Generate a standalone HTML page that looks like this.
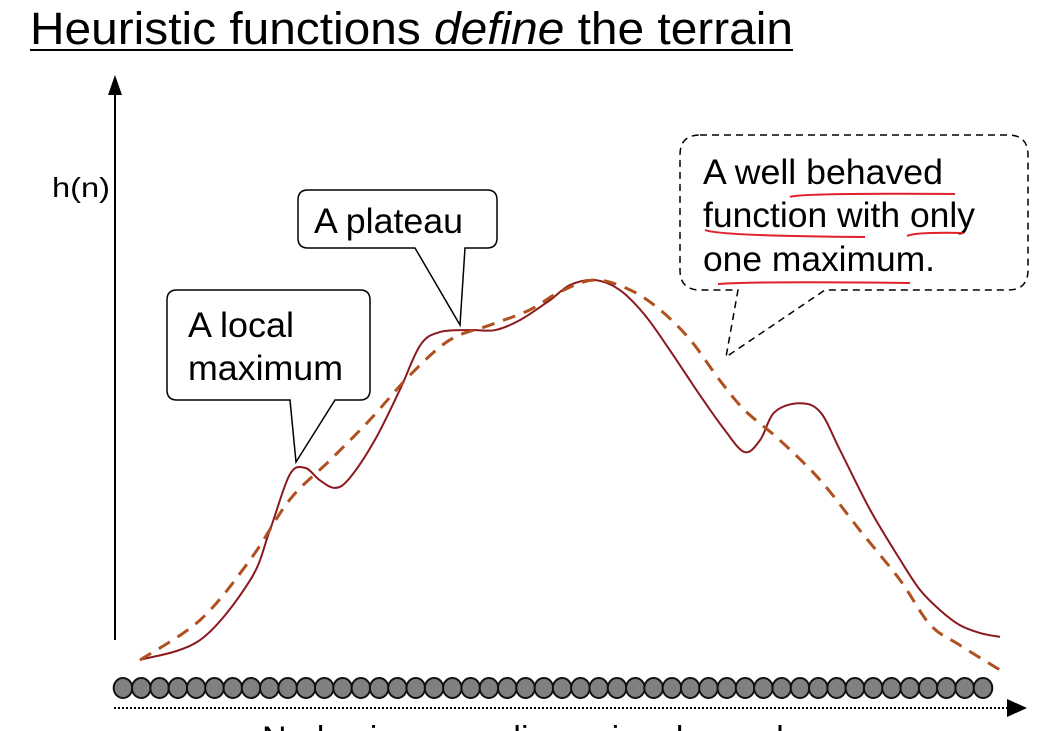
<!DOCTYPE html>
<html><head><meta charset="utf-8"><style>
body{margin:0;background:#fff;width:1060px;height:731px;overflow:hidden;font-family:"Liberation Sans",sans-serif}
svg{position:absolute;left:0;top:0}
</style></head><body>
<svg id="c" width="1060" height="731">
<text x="30" y="44" font-size="45" textLength="763" lengthAdjust="spacingAndGlyphs" fill="#000">Heuristic functions <tspan font-style="italic">define</tspan> the terrain</text>
<line x1="30" y1="50" x2="793" y2="50" stroke="#000" stroke-width="2"/>
<line x1="115" y1="92" x2="115" y2="640" stroke="#000" stroke-width="2"/>
<polygon points="108,95 122,95 115,75" fill="#000"/>
<text x="52" y="197" font-size="28" textLength="58" lengthAdjust="spacingAndGlyphs">h(n)</text>
<line x1="114" y1="708" x2="1008" y2="708" stroke="#000" stroke-width="2" stroke-dasharray="2,2"/>
<polygon points="1007,699 1007,717 1027,708" fill="#000"/>
<text x="262" y="750" font-size="34">Nodes in a one-dimensional search space</text>
<g id="nodes"></g>
<g id="series"></g>
<path d="M308,190 H487 Q497,190 497,200 V238 Q497,248 487,248 H465 L460,325 L415,248 H308 Q298,248 298,238 V200 Q298,190 308,190 Z" fill="#fff" stroke="#000" stroke-width="1.5"/>
<text x="314" y="233" font-size="35" textLength="149" lengthAdjust="spacingAndGlyphs">A plateau</text>
<path d="M177,290 H360 Q370,290 370,300 V390 Q370,400 360,400 H335 L296,462 L290,400 H177 Q167,400 167,390 V300 Q167,290 177,290 Z" fill="#fff" stroke="#000" stroke-width="1.5"/>
<text x="188" y="337" font-size="35" textLength="106" lengthAdjust="spacingAndGlyphs">A local</text>
<text x="188" y="380" font-size="35" textLength="155" lengthAdjust="spacingAndGlyphs">maximum</text>
<path d="M700,135 H1008 Q1028,135 1028,155 V270 Q1028,290 1008,290 H825 L726,357 L738,290 H700 Q680,290 680,270 V155 Q680,135 700,135 Z" fill="#fff" stroke="#000" stroke-width="1.5" stroke-dasharray="7,5"/>
<text x="703" y="184" font-size="35" textLength="240" lengthAdjust="spacingAndGlyphs">A well behaved</text>
<text x="703" y="227" font-size="35" textLength="272" lengthAdjust="spacingAndGlyphs">function with only</text>
<text x="703" y="271" font-size="35" textLength="232" lengthAdjust="spacingAndGlyphs">one maximum.</text>
<g stroke="#e0202a" stroke-width="2" fill="none">
<path d="M790,197 Q800,193 955,194"/><path d="M705,230 Q720,236 865,237"/><path d="M907,236 Q915,232 963,233"/><path d="M718,284 Q760,281 910,283"/>
</g>
</svg>
<script>
const solidX=[0,7,12.8,15.1,17.4,19.2,20.9,22.7,24.4,27.3,30.2,32.6,34.9,38.4,41.3,44.2,47.7,50,52.9,55.8,58.7,61.6,65.1,68,70.3,72.1,73.8,76.7,79.1,81.4,84.9,88.4,90.7,93,95.3,97.7,100];
const solidH=[1.3,6.5,22,35,49.4,51.2,48,46,48.6,58.4,71.4,83.1,86.5,87,87,89.6,94.8,98.7,100,97.4,90.9,81.8,70.1,61,55.3,58.4,65.7,68,65.7,55.8,40.3,27.3,19.5,14.3,10.4,8.3,7.3];
const dashX=[0,7,12.8,17.4,22.1,26.7,31.4,36,40.7,45.3,48.8,52.9,57,60.5,64,67.4,70.3,74.4,79.1,83.7,88.4,91.9,95.3,100];
const dashH=[1.3,11.7,27.3,42.9,53.2,63.6,75.3,84.4,88.3,92.2,96.9,100,97.4,92.2,84.4,74,66.2,58.4,48,35,22,10.4,5.2,-1.3];
const nodeCount=48;
const xs=x=>140+x*8.6, ys=h=>665-h*3.85;
const NS='http://www.w3.org/2000/svg';
function pathFrom(X,H){
  const p=X.map((x,i)=>[xs(x),ys(H[i])]);
  let d='M'+p[0][0]+','+p[0][1];
  for(let i=0;i<p.length-1;i++){
    const p0=p[i-1]||p[i],p1=p[i],p2=p[i+1],p3=p[i+2]||p2;
    d+=` C${p1[0]+(p2[0]-p0[0])/6},${p1[1]+(p2[1]-p0[1])/6} ${p2[0]-(p3[0]-p1[0])/6},${p2[1]-(p3[1]-p1[1])/6} ${p2[0]},${p2[1]}`;
  }
  return d;
}
const g=document.getElementById('series');
const s=document.createElementNS(NS,'path');
s.setAttribute('d',pathFrom(solidX,solidH));s.setAttribute('fill','none');s.setAttribute('stroke','#8b1a1f');s.setAttribute('stroke-width','2');


g.appendChild(s);
const d=document.createElementNS(NS,'path');
d.setAttribute('d',pathFrom(dashX,dashH));d.setAttribute('fill','none');d.setAttribute('stroke','#b0501e');d.setAttribute('stroke-width','3');d.setAttribute('stroke-dasharray','13,9');


g.appendChild(d);
const ng=document.getElementById('nodes');
const step=(983-123)/(nodeCount-1);
for(let i=0;i<nodeCount;i++){
  const c=document.createElementNS(NS,'ellipse');
  c.setAttribute('cx',123+i*step);c.setAttribute('cy',688);c.setAttribute('rx',9.3);c.setAttribute('ry',10);
  c.setAttribute('fill','#808080');c.setAttribute('stroke','#111');c.setAttribute('stroke-width','2');
  
  
  ng.appendChild(c);
}
</script>
</body></html>
